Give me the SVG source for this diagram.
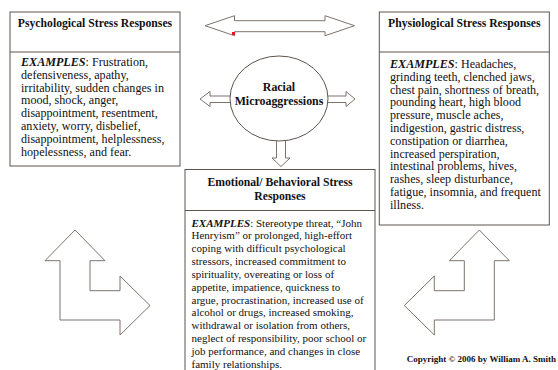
<svg xmlns="http://www.w3.org/2000/svg" width="558" height="370" viewBox="0 0 558 370">
  <style>
    .box { fill: #ffffff; stroke: #5c544e; stroke-width: 1; }
    .rule { stroke: #5c544e; stroke-width: 1; }
    .arrow { fill: #ffffff; stroke: #7d736c; stroke-width: 1; stroke-linejoin: miter; }
    .title { font-family: "Liberation Serif", "Times New Roman", serif; font-weight: bold; font-size: 11.7px; fill: #111; text-anchor: middle; }
    .body { font-family: "Liberation Serif", "Times New Roman", serif; font-size: 12.1px; fill: #111; }
    .body-sm { font-family: "Liberation Serif", "Times New Roman", serif; font-size: 11px; fill: #111; }
    .ex { font-weight: bold; font-style: italic; }
    .center { font-family: "Liberation Serif", "Times New Roman", serif; font-weight: bold; font-size: 11.9px; fill: #111; text-anchor: middle; }
    .credit { font-family: "Liberation Serif", "Times New Roman", serif; font-weight: bold; font-size: 9px; fill: #111; text-anchor: end; }
  </style>
  <rect width="558" height="370" fill="#ffffff"/>

  <!-- connectors and block arrows -->
  <g id="connectors">
    <polygon class="arrow" points="205,25.7 234.5,15.7 234.5,20.7 325,20.7 325,15.7 354.5,25.7 325,35.7 325,31.7 234.5,31.7 234.5,35.7"/>
    <rect x="232" y="32" width="3" height="3" fill="#e8141c"/>
    <path class="arrow" d="M231,96 H210 V91.5 L200,99 L210,106.5 V102.5 H231"/>
    <path class="arrow" d="M327.5,96 H346 V91.5 L355,99 L346,106.5 V102.5 H327.5"/>
    <path class="arrow" d="M276.5,141 V158 H272 L281,166.5 L290,158 H285.5 V141"/>
    <polygon class="arrow" points="75,230 105,260.7 90,260.7 90,290.7 120,290.7 120,276 150,305.5 120,335 120,320 60,320 60,260.7 45,260.7"/>
    <polygon class="arrow" points="479.3,230 509.3,260.7 494.3,260.7 494.3,320 434.3,320 434.3,335 404.3,305.5 434.3,276 434.3,290.7 464.3,290.7 464.3,260.7 449.3,260.7"/>
  </g>

  <g id="racial-microaggressions">
    <ellipse class="box" cx="279" cy="98.5" rx="49" ry="42.5"/>
    <text class="center" x="279" y="90.5">Racial</text>
    <text class="center" x="279" y="104.5">Microaggressions</text>
  </g>

  <g id="psychological">
    <rect class="box" x="10" y="12" width="170" height="154"/>
    <line class="rule" x1="10" y1="52" x2="180" y2="52"/>
    <text class="title" x="95" y="27">Psychological Stress Responses</text>
    <text class="body" x="21">
      <tspan x="21" y="66"><tspan class="ex">EXAMPLES</tspan>: Frustration,</tspan>
      <tspan x="21" y="78.8">defensiveness, apathy,</tspan>
      <tspan x="21" y="91.6">irritability, sudden changes in</tspan>
      <tspan x="21" y="104.4">mood, shock, anger,</tspan>
      <tspan x="21" y="117.2">disappointment, resentment,</tspan>
      <tspan x="21" y="130">anxiety, worry, disbelief,</tspan>
      <tspan x="21" y="142.8">disappointment, helplessness,</tspan>
      <tspan x="21" y="155.6">hopelessness, and fear.</tspan>
    </text>
  </g>

  <g id="physiological">
    <rect class="box" x="379.3" y="12" width="170" height="213"/>
    <line class="rule" x1="379.3" y1="52" x2="549.3" y2="52"/>
    <text class="title" x="464.3" y="27">Physiological Stress Responses</text>
    <text class="body" x="390">
      <tspan x="390" y="68"><tspan class="ex">EXAMPLES</tspan>: Headaches,</tspan>
      <tspan x="390" y="80.8">grinding teeth, clenched jaws,</tspan>
      <tspan x="390" y="93.6">chest pain, shortness of breath,</tspan>
      <tspan x="390" y="106.4">pounding heart, high blood</tspan>
      <tspan x="390" y="119.2">pressure, muscle aches,</tspan>
      <tspan x="390" y="132">indigestion, gastric distress,</tspan>
      <tspan x="390" y="144.8">constipation or diarrhea,</tspan>
      <tspan x="390" y="157.6">increased perspiration,</tspan>
      <tspan x="390" y="170.4">intestinal problems, hives,</tspan>
      <tspan x="390" y="183.2">rashes, sleep disturbance,</tspan>
      <tspan x="390" y="196">fatigue, insomnia, and frequent</tspan>
      <tspan x="390" y="208.8">illness.</tspan>
    </text>
  </g>

  <g id="emotional-behavioral">
    <rect class="box" x="185" y="169.5" width="190" height="210"/>
    <line class="rule" x1="185" y1="210.5" x2="375" y2="210.5"/>
    <text class="title" x="280" y="186">Emotional/ Behavioral Stress</text>
    <text class="title" x="280" y="199.5">Responses</text>
    <text class="body-sm" x="191.5">
      <tspan x="191.5" y="226.5"><tspan class="ex">EXAMPLES</tspan>: Stereotype threat, “John</tspan>
      <tspan x="191.5" y="239.35">Henryism” or prolonged, high-effort</tspan>
      <tspan x="191.5" y="252.2">coping with difficult psychological</tspan>
      <tspan x="191.5" y="265.05">stressors, increased commitment to</tspan>
      <tspan x="191.5" y="277.9">spirituality, overeating or loss of</tspan>
      <tspan x="191.5" y="290.75">appetite, impatience, quickness to</tspan>
      <tspan x="191.5" y="303.6">argue, procrastination, increased use of</tspan>
      <tspan x="191.5" y="316.45">alcohol or drugs, increased smoking,</tspan>
      <tspan x="191.5" y="329.3">withdrawal or isolation from others,</tspan>
      <tspan x="191.5" y="342.15">neglect of responsibility, poor school or</tspan>
      <tspan x="191.5" y="355">job performance, and changes in close</tspan>
      <tspan x="191.5" y="367.85">family relationships.</tspan>
    </text>
  </g>

  <text class="credit" x="556" y="362">Copyright © 2006 by William A. Smith</text>
</svg>
